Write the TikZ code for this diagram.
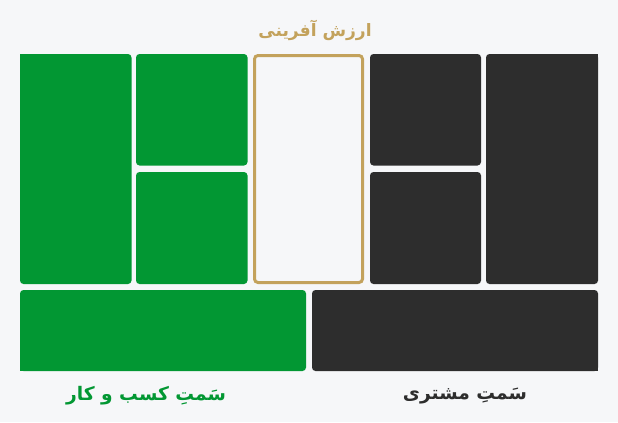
\documentclass[tikz,border=0pt]{standalone}
\usepackage{fontspec}
\TeXXeTstate=1
\newfontfamily\arabicfont[Script=Arabic]{DejaVu Sans}
\definecolor{bgc}{HTML}{F6F7F9}
\definecolor{gc}{HTML}{029733}
\definecolor{dc}{HTML}{2D2D2D}
\definecolor{goldc}{HTML}{C3A25C}
\begin{document}
\begin{tikzpicture}[x=0.75pt,y=-0.75pt,
  blk/.style={rounded corners=3.5*0.75pt,inner sep=0pt,outer sep=0pt,draw=none},
  gblk/.style={blk,fill=gc},
  dblk/.style={blk,fill=dc},
  vblk/.style={blk,draw=goldc,line width=3*0.75pt,fill=bgc},
  lbl/.style={font=\arabicfont\bfseries\fontsize{14}{16}\selectfont,inner sep=0pt},
  ttl/.style={lbl,font=\arabicfont\bfseries\fontsize{12.8}{15}\selectfont}]
\fill[bgc] (0,0) rectangle (618,422);
\useasboundingbox (0,0) rectangle (618,422);
% business side
\node[gblk,minimum width=111.5*0.75pt,minimum height=230*0.75pt] (L1) at (75.75,169) {};
\node[gblk,minimum width=111.5*0.75pt,minimum height=111.5*0.75pt] (G2) at (191.75,109.75) {};
\node[gblk,minimum width=111.5*0.75pt,minimum height=112*0.75pt] (G3) at (191.75,228) {};
\node[gblk,minimum width=286*0.75pt,minimum height=81*0.75pt] (BG) at (163,330.5) {};
% value
\node[vblk,minimum width=108*0.75pt,minimum height=227*0.75pt] (V) at (308.5,169) {};
% customer side
\node[dblk,minimum width=111*0.75pt,minimum height=111.5*0.75pt] (D1) at (425.5,109.75) {};
\node[dblk,minimum width=111*0.75pt,minimum height=112*0.75pt] (D2) at (425.5,228) {};
\node[dblk,minimum width=112*0.75pt,minimum height=230*0.75pt] (R1) at (542,169) {};
\node[dblk,minimum width=286*0.75pt,minimum height=81*0.75pt] (BD) at (455,330.5) {};
% square outer corners
\fill[gc] (L1.north west) rectangle ++(6,6);
\fill[gc] (BG.south west) rectangle ++(6,-6);
\fill[dc] (R1.north east) rectangle ++(-6,6);
\fill[dc] (BD.south east) rectangle ++(-6,-6);
% labels
\node[ttl,text=goldc] (title) at (315,30) {\beginR ارزش آفرینی\endR};
\node[lbl,text=gc] (biz) at (146,396) {\beginR سَمتِ کسب و کار\endR};
\node[lbl,text=dc] (cust) at (465,396) {\beginR سَمتِ مشتری\endR};
\end{tikzpicture}
\end{document}
